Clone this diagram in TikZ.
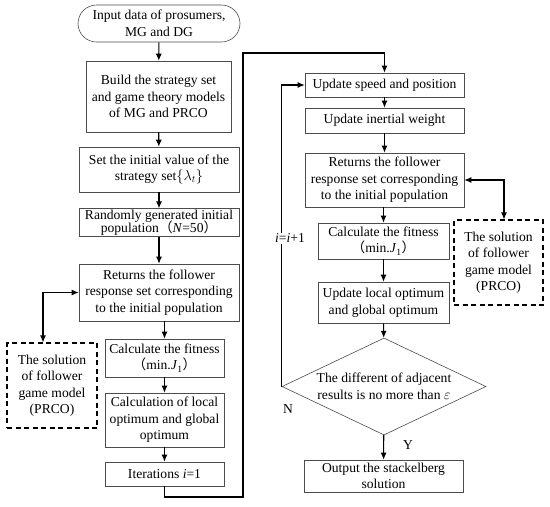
\documentclass[tikz,border=0pt]{standalone}
\usepackage{fontspec}
\setmainfont{Liberation Serif}
\newfontfamily\cjk{Noto Sans CJK SC}
\usepackage{amsmath}
\usetikzlibrary{positioning,shapes.geometric,shapes.misc,arrows.meta}

\begin{document}
\begin{tikzpicture}[x=1pt,y=-1pt,>={Latex[length=7pt,width=6pt]},
        every node/.style={font=\fontsize{13.6}{16.5}\selectfont},
        stepbox/.style={draw=black!70,line width=0.6pt,align=center,inner sep=1pt},
        termbox/.style={draw=black!70,line width=0.6pt,rounded rectangle,align=center,inner sep=1pt},
        dashbox/.style={draw,line width=1.1pt,dash pattern=on 5pt off 3.5pt,align=center,inner sep=1pt},
        decbox/.style={draw=black!70,line width=0.6pt,diamond,aspect=2.1,align=center,inner sep=0pt},
        flow/.style={->,line width=1.1pt}]
        \useasboundingbox (0,0) rectangle (550,507);
        % left column
        \node[termbox,minimum width=164pt,minimum height=37pt] (start) at (159,23.5) {Input data of prosumers,\\MG and DG};
        \node[stepbox,minimum width=145pt,minimum height=71pt] (build) at (158.5,96.5) {Build the strategy set\\and game theory models\\of MG and PRCO};
        \node[stepbox,minimum width=160pt,minimum height=45pt] (setinit) at (159,169.5) {Set the initial value of the\\strategy set$\{\lambda_t\}$};
        \node[stepbox,minimum width=160pt,minimum height=27pt] (randpop) at (159,222.5) {Randomly generated initial\\[-3pt]population{\cjk （}\textit{N}=50{\cjk ）}};
        \node[stepbox,minimum width=160pt,minimum height=57pt] (retL) at (159,292.5) {Returns the follower\\response set corresponding\\to the initial population};
        \node[stepbox,minimum width=119pt,minimum height=38pt] (fitL) at (164.5,358) {Calculate the fitness\\{\cjk （}min.\textit{J}\textsubscript{1}{\cjk ）}};
        \node[stepbox,minimum width=119pt,minimum height=54pt] (calcL) at (164.5,420) {Calculation of local\\optimum and global\\optimum};
        \node[stepbox,minimum width=119pt,minimum height=24pt] (iter) at (164.5,474) {Iterations \textit{i}=1};
        \node[dashbox,minimum width=90pt,minimum height=85pt] (solL) at (52,385.5) {The solution\\of follower\\game model\\(PRCO)};
        % right column
        \node[stepbox,minimum width=159pt,minimum height=24pt] (speed) at (384.5,85) {Update speed and position};
        \node[stepbox,minimum width=159pt,minimum height=25pt] (inertia) at (384.5,120.5) {Update inertial weight};
        \node[stepbox,minimum width=159pt,minimum height=54pt] (retR) at (384.5,180) {Returns the follower\\response set corresponding\\to the initial population};
        \node[stepbox,minimum width=131pt,minimum height=36pt] (fitR) at (383.5,241) {Calculate the fitness\\{\cjk （}min.\textit{J}\textsubscript{1}{\cjk ）}};
        \node[stepbox,minimum width=131pt,minimum height=41pt] (updR) at (383.5,302.5) {Update local optimum\\and global optimum};
        \node[decbox,minimum width=204pt,minimum height=97pt] (dec) at (384,386.5) {The different of adjacent\\results is no more than $\varepsilon$};
        \node[stepbox,minimum width=159pt,minimum height=32pt] (out) at (383.5,476) {Output the stackelberg\\solution};
        \node[dashbox,minimum width=89pt,minimum height=85pt] (solR) at (498.5,262.5) {The solution\\of follower\\game model\\(PRCO)};
        \coordinate (lbot) at (243,497);
        \coordinate (ltop) at (243,53);
        % connectors
        \draw[flow] (start) -- (build);
        \draw[flow] (build) -- (setinit);
        \draw[flow] (setinit) -- (randpop);
        \draw[flow] (randpop) -- (retL);
        \draw[flow] (retL.south -| fitL) -- (fitL);
        \draw[flow] (fitL) -- (calcL);
        \draw[flow] (calcL) -- (iter);
        \draw[flow,<->] (retL.west) -| ([xshift=-9pt]solL.north);
        \draw[flow] (iter.south) |- (lbot) -- (ltop) -| (speed.north);
        \draw[flow] (speed) -- (inertia);
        \draw[flow] (inertia) -- (retR);
        \draw[flow] (retR.south -| fitR) -- (fitR);
        \draw[flow] (fitR) -- (updR);
        \draw[flow] (updR) -- (dec);
        \draw[flow] (dec) -- (out);
        \draw[flow,<->] (retR.east) -| ([xshift=5.5pt]solR.north);
        \draw[flow] (dec.west) |- (speed.west);
        \node[fill=white,inner sep=1pt] (inc) at (290,238) {\textit{i}=\textit{i}+1};
        \node (nlab) at (288,409) {N};
        \node (ylab) at (408,445) {Y};
\end{tikzpicture}
\end{document}
